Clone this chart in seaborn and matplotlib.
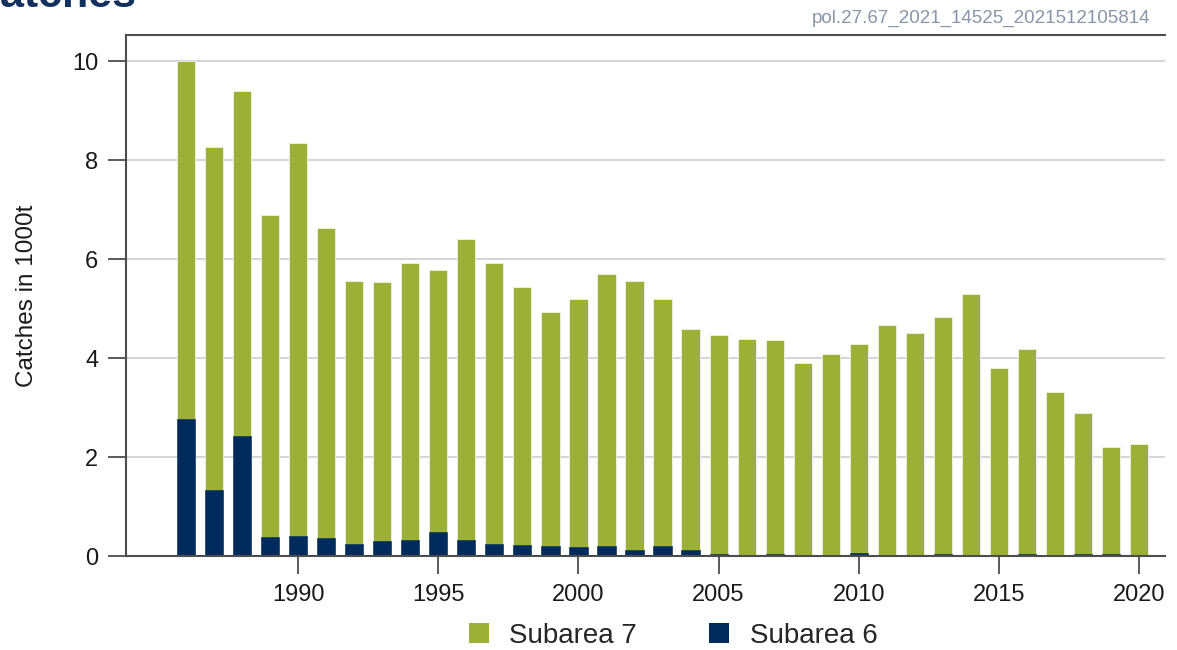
import matplotlib
matplotlib.use("Agg")
import pandas as pd
import matplotlib.pyplot as plt
import seaborn as sns
from matplotlib.patches import Patch

# Catches (1000 t)
years = list(range(1986, 2021))
subarea_6 = [2.76, 1.33, 2.43, 0.38, 0.41, 0.36, 0.24, 0.31, 0.32, 0.49,
             0.32, 0.24, 0.22, 0.20, 0.18, 0.21, 0.12, 0.20, 0.12, 0.05,
             0.03, 0.04, 0.03, 0.02, 0.06, 0.03, 0.03, 0.04, 0.03, 0.03,
             0.05, 0.03, 0.05, 0.04, 0.03]
subarea_7 = [7.24, 6.94, 6.96, 6.52, 7.93, 6.27, 5.32, 5.23, 5.61, 5.30,
             6.09, 5.69, 5.21, 4.74, 5.01, 5.49, 5.43, 5.00, 4.46, 4.41,
             4.35, 4.32, 3.88, 4.07, 4.22, 4.63, 4.48, 4.79, 5.26, 3.76,
             4.14, 3.28, 2.84, 2.17, 2.23]
x_ticks = [1990, 1995, 2000, 2005, 2010, 2015, 2020]
y_ticks = [0, 2, 4, 6, 8, 10]

green = "#9cb037"
navy = "#002b5c"

df = pd.DataFrame({"year": years, "Subarea 6": subarea_6, "Subarea 7": subarea_7})
df["total"] = df["Subarea 6"] + df["Subarea 7"]

sns.set_theme(style="white")
plt.rcParams["font.family"] = ["Liberation Sans", "DejaVu Sans"]

fig = plt.figure(figsize=(11.77, 6.5), dpi=100)
ax = fig.add_axes([0.107, 0.1446, 0.883, 0.8015])

# stacked bars: total (green) underneath, subarea 6 (navy) on top of it from 0
sns.barplot(data=df, x="year", y="total", color=green, saturation=1,
            width=0.65, native_scale=True, errorbar=None,
            edgecolor="#f0f4e0", linewidth=0.6, ax=ax)
sns.barplot(data=df, x="year", y="Subarea 6", color=navy, saturation=1,
            width=0.65, native_scale=True, errorbar=None,
            edgecolor=navy, linewidth=0.4, ax=ax)

ax.set_xlim(1983.86, 2020.93)
ax.set_ylim(0, 10.53)
ax.set_xticks(x_ticks)
ax.set_yticks(y_ticks)
ax.set_xlabel("")
ax.set_ylabel("Catches in 1000t", fontsize=17.5, color="#1a1a1a")
ax.yaxis.set_label_coords(-0.085, 0.5)

ax.yaxis.grid(True, color="#d6d6d6", linewidth=1.5)
ax.set_axisbelow(True)
for s in ["left", "top", "bottom"]:
    ax.spines[s].set_color("#4d4d4d")
    ax.spines[s].set_linewidth(1.5)
ax.spines["right"].set_visible(False)
ax.tick_params(axis="both", direction="out", length=13, width=1.3,
               color="#4d4d4d", labelsize=17, labelcolor="#1a1a1a",
               pad=7, left=True, bottom=True)

# title (partly cut off at the top-left, as in the source) and stamp
fig.text(-0.026, 0.989, "Catches", fontsize=31, fontweight="bold",
         color="#12315e", va="baseline", ha="left")
fig.text(0.977, 0.965, "pol.27.67_2021_14525_2021512105814", fontsize=13.5,
         color="#8796a8", va="baseline", ha="right")

handles = [Patch(facecolor=green, edgecolor="none", label="Subarea 7"),
           Patch(facecolor=navy, edgecolor="none", label="Subarea 6")]
fig.legend(handles=handles, loc="center", bbox_to_anchor=(0.572, 0.022),
           ncol=2, frameon=False, fontsize=20, handlelength=0.7,
           handleheight=0.7, handletextpad=0.75, columnspacing=2.6)

fig.savefig("out.png", dpi=100)
